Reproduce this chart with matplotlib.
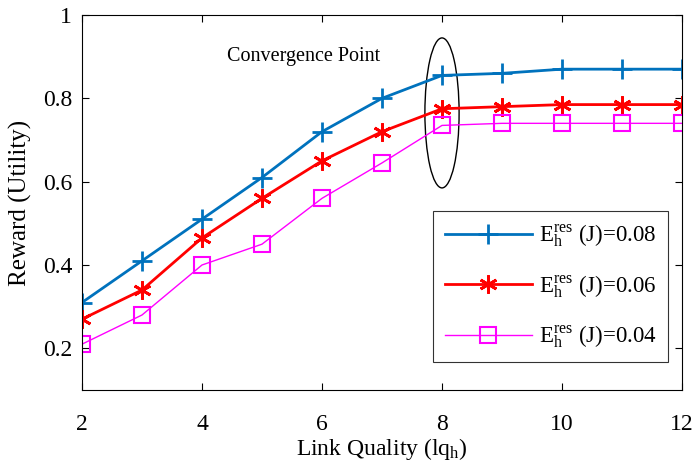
import matplotlib.pyplot as plt
from matplotlib.patches import Ellipse

plt.rcParams['font.family'] = 'Liberation Serif'
plt.rcParams['mathtext.fontset'] = 'custom'
plt.rcParams['mathtext.rm'] = 'Liberation Serif'
plt.rcParams['mathtext.it'] = 'Liberation Serif'

# data
link_quality = [2, 3, 4, 5, 6, 7, 8, 9, 10, 11, 12]
reward_008 = [0.31, 0.41, 0.51, 0.61, 0.72, 0.80, 0.855, 0.86, 0.87, 0.87, 0.87]
reward_006 = [0.27, 0.34, 0.465, 0.56, 0.65, 0.72, 0.775, 0.78, 0.785, 0.785, 0.785]
reward_004 = [0.21, 0.28, 0.40, 0.45, 0.56, 0.645, 0.735, 0.74, 0.74, 0.74, 0.74]
labels = [r'$\mathregular{E_h^{res}}$ (J)=0.08',
          r'$\mathregular{E_h^{res}}$ (J)=0.06',
          r'$\mathregular{E_h^{res}}$ (J)=0.04']

fig = plt.figure(figsize=(6.94, 4.70), dpi=100)
ax = fig.add_axes([82/694, 80/470, 600/694, 375/470])

ax.plot(link_quality, reward_008, color='#0072BD', lw=2, marker='+',
        markersize=14, markeredgewidth=2, label=labels[0])
ax.plot(link_quality, reward_006, color='#FF0000', lw=2, marker=(6, 2, 0),
        markersize=13, markeredgewidth=2, label=labels[1])
ax.plot(link_quality, reward_004, color='#FF00FF', lw=1, marker='s',
        markersize=11, markeredgewidth=1.5, markerfacecolor='none', label=labels[2])

# convergence annotation
ax.add_patch(Ellipse((8.0, 0.765), 0.57, 0.36, fill=False, edgecolor='k', lw=1))
ax.text(5.7, 0.9, 'Convergence Point', fontsize=14.5, ha='center', va='center')

ax.set_xlim(2, 12)
ax.set_ylim(0.1, 1)
ax.set_xticks([2, 4, 6, 8, 10, 12])
ax.set_yticks([0.2, 0.4, 0.6, 0.8, 1])
ax.set_yticklabels(['0.2', '0.4', '0.6', '0.8', '1'])
ax.tick_params(direction='in', top=True, right=True, labelsize=17, length=5)
ax.tick_params(axis='x', pad=17)
ax.tick_params(axis='y', pad=7)
ax.set_xlabel(r'Link Quality (lq$\mathregular{_h}$)', fontsize=17, labelpad=1)
ax.set_ylabel('Reward (Utility)', fontsize=18, labelpad=8)

leg = ax.legend(loc='lower right', fontsize=16.5, frameon=True, fancybox=False,
                edgecolor='k', handlelength=3.8, borderpad=0.5, labelspacing=1.05,
                handletextpad=0.3, bbox_to_anchor=(0.977, 0.075), borderaxespad=0)
leg.get_frame().set_linewidth(0.8)

fig.savefig('out.png', dpi=100)
